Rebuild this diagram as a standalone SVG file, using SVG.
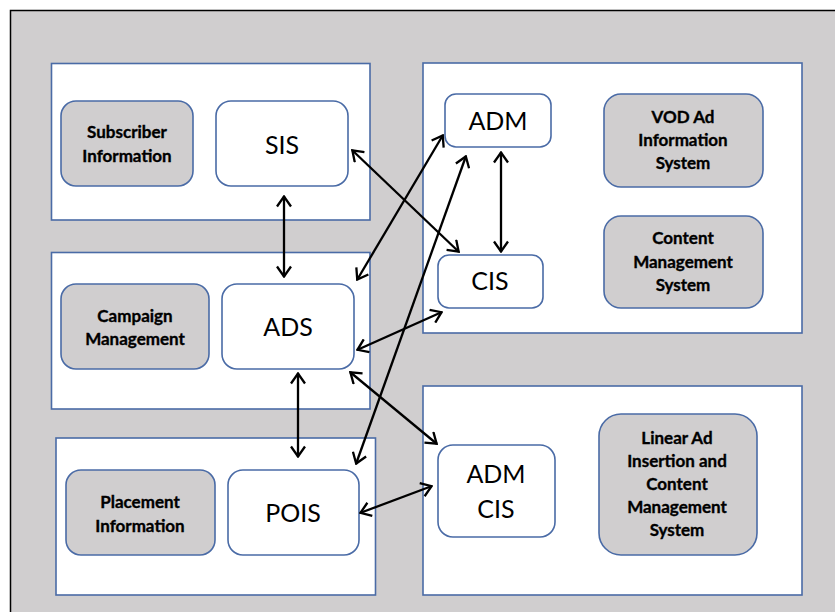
<svg xmlns="http://www.w3.org/2000/svg" width="835" height="612" viewBox="0 0 835 612">
<style>
.panel{fill:#fff;stroke:#4a6ba6;stroke-width:1.6}
.box{fill:#fff;stroke:#4a6ba6;stroke-width:1.6}
.gbox{fill:#d0cecf;stroke:#4a6ba6;stroke-width:1.6}
.big{font-family:Lato,"Liberation Sans",sans-serif;font-size:25px;fill:#000;text-anchor:middle}
.sm{font-family:Lato,"Liberation Sans",sans-serif;font-size:17px;font-weight:bold;fill:#000;stroke:#000;stroke-width:0.35;text-anchor:middle}
.con{stroke:#000;stroke-width:2.3;fill:none;marker-start:url(#ah);marker-end:url(#ah)}
</style>
<defs>
<marker id="ah" viewBox="0 0 13 16" refX="12" refY="8" markerWidth="13" markerHeight="16" markerUnits="userSpaceOnUse" orient="auto-start-reverse">
<path d="M1.5,1 L11.5,8 L1.5,15" fill="none" stroke="#000" stroke-width="2.3"/>
</marker>
</defs>
<rect x="10.5" y="10.5" width="840" height="620" fill="#d0cecf" stroke="#000" stroke-width="1.5"/>
<rect class="panel" x="51.5" y="63.5" width="318.5" height="156.5"/>
<rect class="panel" x="51.5" y="252.5" width="318.5" height="156.5"/>
<rect class="panel" x="56" y="438" width="319.5" height="157"/>
<rect class="panel" x="423" y="63" width="379" height="270"/>
<rect class="panel" x="423" y="386" width="379" height="209"/>
<g id="subscriber">
<rect class="gbox" x="61" y="101" width="132" height="85" rx="15"/>
<text class="sm" x="127" y="138">Subscriber</text>
<text class="sm" x="127" y="162">Information</text>
</g>
<g id="sis">
<rect class="box" x="216" y="101" width="132" height="85" rx="15"/>
<text class="big" x="282" y="154">SIS</text>
</g>
<g id="campaign">
<rect class="gbox" x="61" y="284" width="148" height="85" rx="15"/>
<text class="sm" x="135" y="322">Campaign</text>
<text class="sm" x="135" y="345">Management</text>
</g>
<g id="ads">
<rect class="box" x="222" y="284" width="132" height="85" rx="15"/>
<text class="big" x="288" y="336">ADS</text>
</g>
<g id="placement">
<rect class="gbox" x="66" y="470" width="149" height="85" rx="15"/>
<text class="sm" x="140" y="508">Placement</text>
<text class="sm" x="140" y="532">Information</text>
</g>
<g id="pois">
<rect class="box" x="228" y="470" width="131" height="85" rx="15"/>
<text class="big" x="293" y="522">POIS</text>
</g>
<g id="adm">
<rect class="box" x="445" y="94" width="106" height="53" rx="11"/>
<text class="big" x="498" y="130">ADM</text>
</g>
<g id="cis">
<rect class="box" x="438" y="255" width="105" height="53" rx="11"/>
<text class="big" x="490" y="290">CIS</text>
</g>
<g id="vod">
<rect class="gbox" x="604" y="94" width="159" height="93" rx="17"/>
<text class="sm" x="683" y="123">VOD Ad</text>
<text class="sm" x="683" y="146">Information</text>
<text class="sm" x="683" y="169">System</text>
</g>
<g id="cms">
<rect class="gbox" x="604" y="216" width="159" height="92" rx="17"/>
<text class="sm" x="683" y="244">Content</text>
<text class="sm" x="683" y="268">Management</text>
<text class="sm" x="683" y="291">System</text>
</g>
<g id="admcis">
<rect class="box" x="438" y="445" width="117" height="92" rx="15"/>
<text class="big" x="496" y="483">ADM</text>
<text class="big" x="496" y="518">CIS</text>
</g>
<g id="linear">
<rect class="gbox" x="599" y="414" width="158" height="141" rx="22"/>
<text class="sm" x="677" y="444">Linear Ad</text>
<text class="sm" x="677" y="467">Insertion and</text>
<text class="sm" x="677" y="490">Content</text>
<text class="sm" x="677" y="513">Management</text>
<text class="sm" x="677" y="536">System</text>
</g>
<g id="connectors">
<line class="con" x1="284" y1="196" x2="284" y2="277"/>
<line class="con" x1="298" y1="373" x2="298" y2="457"/>
<line class="con" x1="501" y1="152" x2="501" y2="252"/>
<line class="con" x1="352" y1="150" x2="459" y2="252"/>
<line class="con" x1="357" y1="280" x2="443" y2="135"/>
<line class="con" x1="356" y1="464" x2="466" y2="156"/>
<line class="con" x1="357" y1="350" x2="442" y2="312"/>
<line class="con" x1="350" y1="372" x2="437" y2="444"/>
<line class="con" x1="360" y1="513" x2="432" y2="486"/>
</g>
</svg>
